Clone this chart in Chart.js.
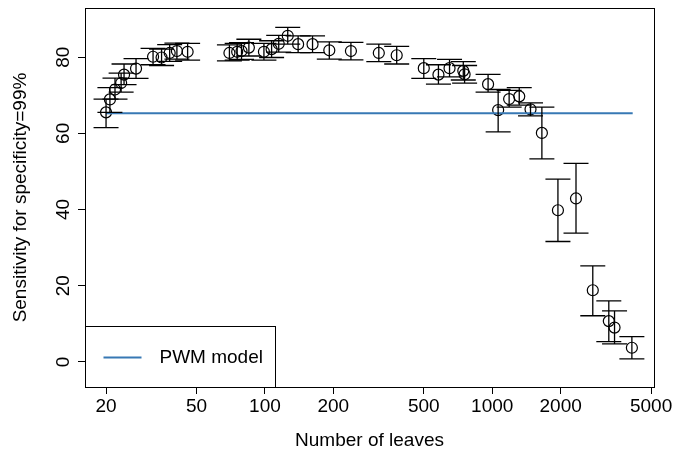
<!DOCTYPE html>
<html>
<head>
<meta charset="utf-8">
<script src="https://cdn.jsdelivr.net/npm/chart.js@4.4.1/dist/chart.umd.min.js"></script>
<style>
  html, body { margin: 0; padding: 0; background: #fff; }
  #wrap { width: 673px; height: 459px; }
</style>
</head>
<body>
<div id="wrap"><canvas id="chart" width="673" height="459"></canvas></div>
<script>
// number of leaves vs sensitivity (%), with interval bounds
const leaves = [20, 20.8, 21.9, 23.3, 24.0, 27.1, 32.2, 35.1, 38.1, 41.0, 45.7,
  69.8, 75.5, 78.9, 85, 99, 107, 115, 126, 140, 162, 192, 239, 317, 380,
  500, 580, 649, 746, 756, 959, 1062, 1187, 1315, 1474, 1654, 1946, 2337,
  2770, 3258, 3453, 4116];
const sensitivity = [65.5, 68.9, 71.5, 73.2, 75.4, 77.0, 80.1, 79.9, 81.1, 81.6, 81.4,
  81.1, 81.4, 81.6, 82.5, 81.4, 82.1, 83.5, 85.6, 83.4, 83.4, 81.8, 81.6, 81.1, 80.5,
  77.1, 75.4, 77.1, 76.4, 75.5, 72.9, 66.1, 69.0, 69.7, 66.3, 60.1, 39.8, 42.9,
  18.8, 10.7, 9.0, 3.7];
const lowerCI = [61.5, 65.5, 69.0, 70.8, 72.8, 74.4, 78.0, 77.8, 78.9, 79.5, 79.2,
  79.0, 79.2, 79.4, 80.3, 79.2, 79.9, 81.3, 83.4, 81.2, 81.2, 79.5, 79.3, 78.8, 78.2,
  74.4, 72.9, 74.8, 74.0, 73.2, 70.8, 60.4, 66.9, 67.4, 64.6, 53.3, 31.6, 33.8,
  12.1, 5.3, 4.7, 0.8];
const upperCI = [69.0, 72.0, 74.5, 75.8, 78.2, 79.6, 82.3, 82.1, 83.3, 83.7, 83.6,
  83.2, 83.6, 83.8, 84.7, 83.6, 84.3, 85.7, 87.8, 85.6, 85.6, 84.0, 83.9, 83.4, 82.8,
  79.6, 78.0, 79.4, 78.8, 77.8, 75.5, 71.5, 71.3, 72.0, 68.0, 66.9, 48.0, 52.1,
  25.2, 16.0, 13.4, 6.6];

const pwmLeaves = [20, 4150];
const pwmSensitivity = [65.3, 65.3];

const xTickValues = [20, 50, 100, 200, 500, 1000, 2000, 5000];
const yTickValues = [0, 20, 40, 60, 80];

const FONT = "'Liberation Sans', Arial, Helvetica, sans-serif";
const PWM_BLUE = '#3778b4';

const errorBars = {
  id: 'errorBars',
  afterDatasetsDraw(chart) {
    const { ctx, scales: { x, y } } = chart;
    ctx.save();
    ctx.strokeStyle = '#000';
    ctx.lineWidth = 1.3;
    leaves.forEach((v, i) => {
      const px = x.getPixelForValue(v);
      const top = y.getPixelForValue(upperCI[i]);
      const bot = y.getPixelForValue(lowerCI[i]);
      ctx.beginPath();
      ctx.moveTo(px, top); ctx.lineTo(px, bot);
      ctx.moveTo(px - 12.5, top); ctx.lineTo(px + 12.5, top);
      ctx.moveTo(px - 12.5, bot); ctx.lineTo(px + 12.5, bot);
      ctx.stroke();
    });
    ctx.restore();
  }
};

// R-style box around the plot plus the legend in the bottom-left corner
const boxAndLegend = {
  id: 'boxAndLegend',
  afterDraw(chart) {
    const { ctx, chartArea: a } = chart;
    ctx.save();
    ctx.strokeStyle = '#000';
    ctx.lineWidth = 1;
    ctx.strokeRect(Math.round(a.left) + 0.5, Math.round(a.top) + 0.5,
      Math.round(a.right - a.left), Math.round(a.bottom - a.top));

    const lx = Math.round(a.left) + 0.5, lb = Math.round(a.bottom) + 0.5;
    ctx.fillStyle = '#fff';
    ctx.fillRect(lx, lb - 61, 190, 61);
    ctx.strokeRect(lx, lb - 61, 190, 61);
    ctx.strokeStyle = PWM_BLUE;
    ctx.lineWidth = 2;
    ctx.beginPath();
    ctx.moveTo(lx + 18, lb - 30);
    ctx.lineTo(lx + 56, lb - 30);
    ctx.stroke();
    ctx.fillStyle = '#000';
    ctx.font = '19px ' + FONT;
    ctx.textAlign = 'left';
    ctx.textBaseline = 'middle';
    ctx.fillText('PWM model', lx + 74, lb - 30);
    ctx.restore();
  }
};

const noEdgePadding = s => {
  s.paddingTop = 0; s.paddingBottom = 0; s.paddingLeft = 0; s.paddingRight = 0;
};

new Chart(document.getElementById('chart'), {
  type: 'scatter',
  data: {
    datasets: [
      {
        label: 'PWM model',
        type: 'line',
        data: pwmLeaves.map((v, i) => ({ x: v, y: pwmSensitivity[i] })),
        borderColor: PWM_BLUE,
        borderWidth: 2,
        pointRadius: 0,
        fill: false
      },
      {
        label: 'Trees',
        data: leaves.map((v, i) => ({ x: v, y: sensitivity[i] })),
        pointStyle: 'circle',
        pointRadius: 5.5,
        backgroundColor: 'rgba(0,0,0,0)',
        borderColor: '#000',
        borderWidth: 1.2
      }
    ]
  },
  options: {
    responsive: false,
    animation: false,
    devicePixelRatio: 1,
    layout: { padding: { left: 0, right: 19, top: 8, bottom: 0 } },
    plugins: {
      legend: { display: false },
      tooltip: { enabled: false }
    },
    scales: {
      x: {
        type: 'logarithmic',
        min: 16.16,
        max: 5150,
        afterBuildTicks: s => { s.ticks = xTickValues.map(v => ({ value: v })); },
        afterFit: s => { s.height = 72; noEdgePadding(s); },
        border: { display: false },
        grid: { drawOnChartArea: false, drawTicks: true, tickLength: 7, color: '#000', lineWidth: 1 },
        ticks: {
          color: '#000',
          font: { family: FONT, size: 19 },
          padding: 1,
          maxRotation: 0,
          autoSkip: false,
          callback: v => String(v)
        },
        title: {
          display: true,
          text: 'Number of leaves',
          color: '#000',
          font: { family: FONT, size: 19 },
          padding: { top: 0, bottom: 7 }
        }
      },
      y: {
        min: -6.6,
        max: 92.9,
        afterBuildTicks: s => { s.ticks = yTickValues.map(v => ({ value: v })); },
        afterFit: s => { s.width = 85; noEdgePadding(s); },
        border: { display: false },
        grid: { drawOnChartArea: false, drawTicks: true, tickLength: 7, color: '#000', lineWidth: 1 },
        ticks: {
          color: '#000',
          font: { family: FONT, size: 19 },
          minRotation: 90,
          maxRotation: 90,
          crossAlign: 'center',
          padding: 4,
          callback: v => String(v)
        },
        title: {
          display: true,
          text: 'Sensitivity for specificity=99%',
          color: '#000',
          font: { family: FONT, size: 19 },
          padding: { top: 9, bottom: 0 }
        }
      }
    }
  },
  plugins: [errorBars, boxAndLegend]
});
</script>
</body>
</html>
